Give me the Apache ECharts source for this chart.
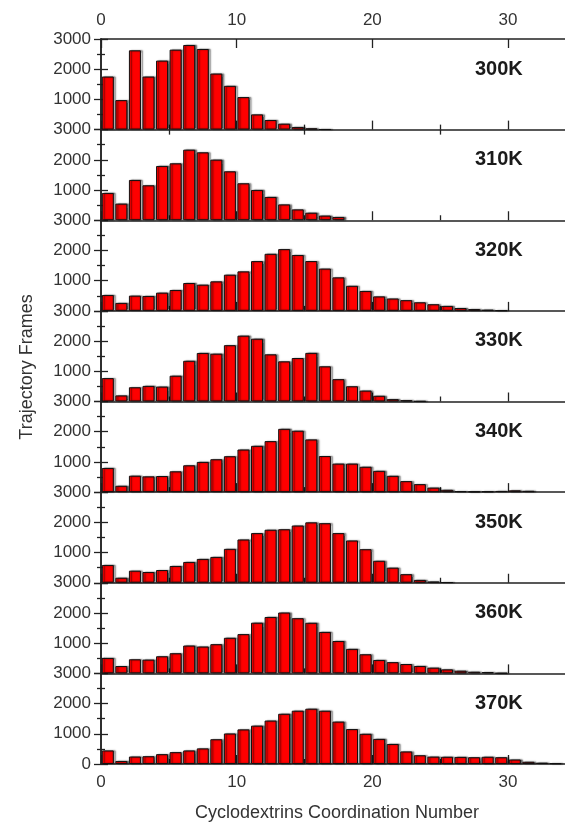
<!DOCTYPE html>
<html><head><meta charset="utf-8">
<script src="https://cdn.jsdelivr.net/npm/echarts@6/dist/echarts.min.js"></script>
<style>html,body{margin:0;padding:0;background:#fff}#c{width:565px;height:822px}</style>
</head><body><div id="c"></div>
<script>
// histogram bins (start of each unit-wide bin)
const binStart = [0,1,2,3,4,5,6,7,8,9,10,11,12,13,14,15,16,17,18,19,20,21,22,23,24,25,26,27,28,29,30,31,32,33];
const temps = ['300K','310K','320K','330K','340K','350K','360K','370K'];
const xTickLabels = [0,10,20,30];
const yTickLabels = [0,1000,2000,3000];

const f300 = [1758,978,2626,1758,2286,2648,2802,2670,1857,1450,1077,505,319,198,88,44,10,0,0,0,0,0,0,0,0,0,0,0,0,0,0,0,0,0];
const f310 = [904,551,1334,1158,1797,1885,2337,2249,2007,1621,1224,1003,772,525,360,250,155,110,0,0,0,0,0,0,0,0,0,0,0,0,0,0,0,0];
const f320 = [527,264,505,495,604,692,923,868,978,1198,1308,1648,1890,2045,1850,1650,1400,1110,830,660,480,410,355,285,220,165,95,60,40,15,0,0,0,0];
const f330 = [775,202,472,517,494,854,1348,1607,1584,1865,2180,2079,1562,1330,1440,1610,1165,740,505,362,190,78,45,12,0,0,0,0,0,0,0,0,0,0];
const f340 = [800,211,544,522,533,689,889,1000,1089,1189,1411,1533,1689,2095,2033,1745,1195,945,945,840,705,540,365,265,150,78,33,20,25,40,60,45,0,0];
const f350 = [589,167,400,356,422,556,689,789,856,1122,1433,1644,1756,1772,1895,2000,1972,1644,1400,1111,728,500,284,95,40,15,0,0,0,0,0,0,0,0];
const f360 = [511,244,467,456,567,667,922,889,967,1178,1300,1678,1867,2015,1827,1675,1372,1072,811,633,444,372,310,245,190,133,90,55,45,10,0,0,0,0];
const f370 = [449,101,247,258,326,393,449,517,820,1011,1146,1270,1438,1663,1764,1831,1764,1404,1157,1000,831,663,416,290,245,240,235,225,240,225,150,75,45,25];
const frames = [f300,f310,f320,f330,f340,f350,f360,f370];

const chart = echarts.init(document.getElementById('c'));
const L = 101, T0 = 39, H = 90.625, XMAX = 34.2;
const axisCol = '#222', txtCol = '#333';
const grids = [], xAxes = [], yAxes = [], series = [], graphics = [];

function xBase(gi, pos, showLabels) {
  return {
    type: 'value', gridIndex: gi, position: pos, min: 0, max: XMAX,
    splitLine: {show: false},
    axisLine: {show: true, onZero: false, lineStyle: {color: axisCol, width: 1.5}},
    axisLabel: {show: showLabels, customValues: xTickLabels, color: txtCol, fontSize: 17,
      fontFamily: 'Liberation Sans, Arial', margin: 10},
    axisTick: {show: true, inside: true, customValues: xTickLabels, length: 9, lineStyle: {color: axisCol, width: 1.3}}
  };
}
function xMinor(gi, pos) {
  return {
    type: 'value', gridIndex: gi, position: pos, min: 0, max: XMAX,
    splitLine: {show: false}, axisLine: {show: false}, axisLabel: {show: false},
    axisTick: {show: true, inside: true, customValues: [5,15,25], length: 5, lineStyle: {color: axisCol, width: 1.3}}
  };
}

frames.forEach((vals, i) => {
  const top = T0 + i * H;
  grids.push({left: L, right: 0, top: top, height: H, containLabel: false});
  const last = i === frames.length - 1;
  const xi = xAxes.length;
  xAxes.push(xBase(i, 'bottom', last));
  xAxes.push(xMinor(i, 'bottom'));
  if (i === 0) { xAxes.push(xBase(i, 'top', true)); xAxes.push(xMinor(i, 'top')); }
  const yi = yAxes.length;
  yAxes.push({
    type: 'value', gridIndex: i, position: 'left', min: 0, max: 3000, interval: 1000,
    splitLine: {show: false},
    axisLine: {show: true, lineStyle: {color: axisCol, width: 1.5}},
    axisTick: {show: true, inside: true, length: 7, lineStyle: {color: axisCol, width: 1.3}},
    minorTick: {show: true, splitNumber: 2, length: 4, lineStyle: {color: axisCol, width: 1.3}},
    axisLabel: {color: txtCol, fontSize: 17, fontFamily: 'Liberation Sans, Arial', margin: 10,
      formatter: v => (v === 0 && !last) ? '' : String(v)}
  });
  yAxes.push({
    type: 'value', gridIndex: i, position: 'right', min: 0, max: 3000, interval: 1000,
    splitLine: {show: false},
    axisLine: {show: true, lineStyle: {color: axisCol, width: 1.5}},
    axisTick: {show: true, inside: true, length: 7, lineStyle: {color: axisCol, width: 1.3}},
    minorTick: {show: true, splitNumber: 2, length: 4, lineStyle: {color: axisCol, width: 1.3}},
    axisLabel: {show: false}
  });
  series.push({
    type: 'bar', xAxisIndex: xi, yAxisIndex: yi, barWidth: 12,
    data: binStart.map((b, k) => [b + 0.5, vals[k] > 0 ? vals[k] : '-']),
    itemStyle: {color: '#ff0000', borderColor: '#111', borderWidth: 1,
      shadowColor: 'rgba(0,0,0,0.6)', shadowOffsetX: 2, shadowOffsetY: 0, shadowBlur: 1.5},
    silent: true, animation: false
  });
  graphics.push({type: 'text', left: 475, top: top + 20,
    style: {text: temps[i], fontSize: 20, fontWeight: 'bold', fontFamily: 'Liberation Sans, Arial', fill: '#1a1a1a'}});
});

graphics.push({type: 'text', x: 27, y: 367, rotation: Math.PI / 2,
  style: {text: 'Trajectory Frames', fontSize: 18, fontFamily: 'Liberation Sans, Arial', fill: txtCol,
    align: 'center', verticalAlign: 'middle'}});
graphics.push({type: 'text', x: 337, y: 813,
  style: {text: 'Cyclodextrins Coordination Number', fontSize: 18, fontFamily: 'Liberation Sans, Arial', fill: txtCol,
    align: 'center', verticalAlign: 'middle'}});

chart.setOption({
  backgroundColor: '#fff', animation: false,
  grid: grids, xAxis: xAxes, yAxis: yAxes, series: series, graphic: graphics
});
</script></body></html>
